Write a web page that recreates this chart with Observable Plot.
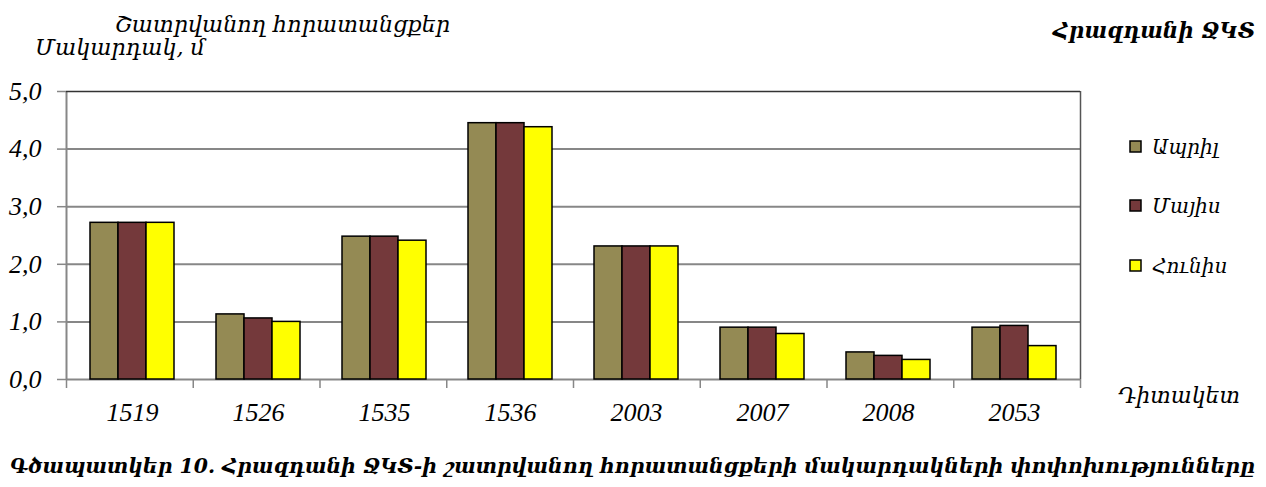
<!DOCTYPE html>
<html><head><meta charset="utf-8">
<script src="https://cdn.jsdelivr.net/npm/d3@7"></script>
<script src="https://cdn.jsdelivr.net/npm/@observablehq/plot@0.6"></script>
<style>
body{margin:0;background:#fff;}
#wrap{position:relative;width:1266px;height:487px;overflow:hidden;background:#fff;}
#wrap svg{position:absolute;left:0;top:0;}
</style>
</head><body>
<div id="wrap"></div>
<script>
const categories = ["1519","1526","1535","1536","2003","2007","2008","2053"];
const series = ["Ապրիլ","Մայիս","Հունիս"];
const april = [2.72,1.13,2.48,4.45,2.31,0.90,0.47,0.90];
const may   = [2.72,1.06,2.48,4.45,2.31,0.90,0.41,0.93];
const june  = [2.72,1.00,2.41,4.38,2.31,0.79,0.34,0.58];
const yTicks = [0,1,2,3,4,5];
const colors = ["#948A54","#74393B","#FFFF00"];

const values = [april, may, june];
const data = categories.flatMap((c,i)=>series.map((s,j)=>({cat:c, series:s, value:values[j][i]})));

const W=1266,H=487;
const margins = {marginLeft:66, marginRight:186, marginTop:91, marginBottom:108};
const numFont = "'Liberation Serif', serif";
const armFont = "'DejaVu Serif', serif";
const gridColor = "#878787";

const bg = Plot.plot({
  width:W, height:H, ...margins,
  style:{background:"transparent", fontFamily:numFont, fontSize:"26px", fontStyle:"italic"},
  x:{domain:[0,categories.length]},
  y:{domain:[yTicks[0], yTicks[yTicks.length-1]]},
  marks:[
    Plot.gridY(yTicks.slice(1,-1), {stroke:gridColor, strokeOpacity:1, strokeWidth:2}),
    Plot.ruleX([0], {stroke:gridColor, strokeWidth:2}),
    Plot.ruleX([categories.length], {stroke:"#555", strokeWidth:1.5}),
    Plot.ruleY([0], {stroke:gridColor, strokeWidth:2}),
    Plot.ruleY([yTicks[yTicks.length-1]], {stroke:"#333", strokeWidth:1.5}),
    Plot.axisY(yTicks, {tickFormat:d=>d.toFixed(1).replace(".",","), tickSize:9, tickPadding:16, stroke:gridColor, strokeWidth:1.5, label:null, fill:"#000", fontSize:26}),
    Plot.axisX(d3.range(0,categories.length+1), {tickFormat:()=>"", tickSize:9, stroke:gridColor, strokeWidth:1.5, label:null})
  ]
});

const fg = Plot.plot({
  width:W, height:H, ...margins,
  style:{background:"transparent", fontFamily:numFont, fontSize:"26px", fontStyle:"italic"},
  fx:{domain:categories, paddingInner:0.33, paddingOuter:0.165, label:null, axis:null},
  x:{domain:series, padding:0, axis:null},
  y:{domain:[yTicks[0], yTicks[yTicks.length-1]], axis:null},
  color:{domain:series, range:colors},
  marks:[
    Plot.barY(data, {fx:"cat", x:"series", y:"value", fill:"series", stroke:"#000", strokeWidth:1.5}),
    Plot.axisFx({anchor:"bottom", tickSize:0, tickPadding:23, label:null, fill:"#000", fontSize:26})
  ]
});

const wrap = document.getElementById("wrap");
wrap.appendChild(bg);
wrap.appendChild(fg);

// Text overlay
const ns="http://www.w3.org/2000/svg";
const ov=document.createElementNS(ns,"svg");
ov.setAttribute("width",W);ov.setAttribute("height",H);
function txt(s,x,y,size,len,bold){
  const t=document.createElementNS(ns,"text");
  t.setAttribute("x",x);t.setAttribute("y",y);
  t.setAttribute("font-family",armFont);t.setAttribute("font-size",size);
  t.setAttribute("font-style","italic");
  if(bold)t.setAttribute("font-weight","bold");
  if(len){t.setAttribute("textLength",len);t.setAttribute("lengthAdjust","spacingAndGlyphs");}
  t.textContent=s;ov.appendChild(t);
}
txt("Շատրվանող  հորատանցքեր",115,32,22,335,false);
txt("Մակարդակ, մ",35,55,22,170,false);
txt("Հրազդանի ՋԿՏ",1053,38,22,202,true);
txt("Դիտակետ",1118,403,22,122,false);
txt("Գծապատկեր 10. Հրազդանի ՋԿՏ-ի շատրվանող հորատանցքերի մակարդակների փոփոխությունները",10,473,20,1245,true);
const ly=[147,206,266];
series.forEach((s,i)=>{
  const r=document.createElementNS(ns,"rect");
  r.setAttribute("x",1130);r.setAttribute("y",ly[i]-6);r.setAttribute("width",11);r.setAttribute("height",11);
  r.setAttribute("fill",colors[i]);r.setAttribute("stroke","#000");r.setAttribute("stroke-width",1.5);
  ov.appendChild(r);
  txt(s,1152,ly[i]+7,20,null,false);
});
wrap.appendChild(ov);
</script>
</body></html>
